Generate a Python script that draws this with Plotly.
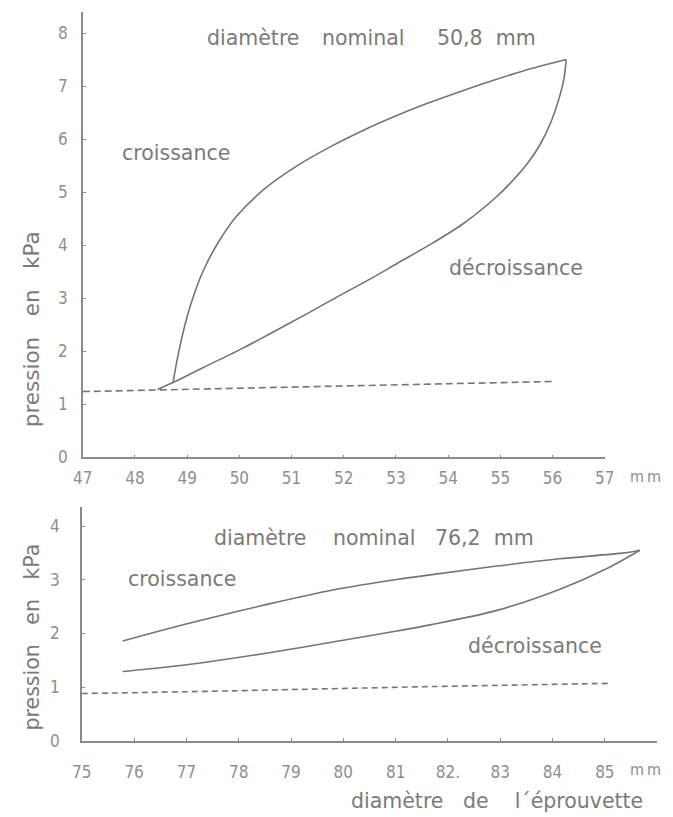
import plotly.graph_objects as go

# ---------------- data (top: nominal 50,8 mm) ----------------
top_ticks = [47, 48, 49, 50, 51, 52, 53, 54, 55, 56, 57]
top_yticks = [0, 1, 2, 3, 4, 5, 6, 7, 8]

top_cro_x = [48.73, 48.80, 48.92, 49.08, 49.30, 49.60, 49.95, 50.48, 51.11, 51.73,
             52.34, 52.98, 53.59, 54.21, 54.84, 55.45, 56.26]
top_cro_y = [1.41, 1.80, 2.35, 2.92, 3.50, 4.06, 4.55, 5.06, 5.50, 5.85,
             6.15, 6.43, 6.67, 6.89, 7.10, 7.29, 7.50]

top_dec_x = [48.43, 48.73, 49.30, 50.05, 50.55, 51.30, 51.90, 52.50, 53.03, 53.65,
             54.28, 54.90, 55.20, 55.51, 55.75, 55.96, 56.14, 56.22, 56.26]
top_dec_y = [1.28, 1.41, 1.69, 2.05, 2.31, 2.71, 3.04, 3.36, 3.66, 4.01,
             4.40, 4.89, 5.18, 5.53, 5.88, 6.30, 6.82, 7.15, 7.50]

top_ref_x = [47.0, 48.43, 56.0]
top_ref_y = [1.24, 1.27, 1.43]

# ---------------- data (bottom: nominal 76,2 mm) ----------------
bot_ticks = [75, 76, 77, 78, 79, 80, 81, 82, 83, 84, 85]
bot_ticktext = ["75", "76", "77", "78", "79", "80", "81", "82.", "83", "84", "85"]
bot_yticks = [0, 1, 2, 3, 4]

bot_cro_x = [75.78, 76.50, 77.34, 78.58, 79.80, 81.05, 81.66, 82.90, 84.13, 85.37, 85.67]
bot_cro_y = [1.86, 2.05, 2.26, 2.55, 2.81, 3.01, 3.09, 3.25, 3.39, 3.50, 3.55]

bot_dec_x = [75.78, 76.50, 77.34, 78.58, 79.80, 81.05, 81.66, 82.90, 84.13, 85.06, 85.67]
bot_dec_y = [1.29, 1.36, 1.46, 1.64, 1.84, 2.05, 2.16, 2.42, 2.82, 3.22, 3.55]

bot_ref_x = [75.0, 77.34, 81.66, 85.06]
bot_ref_y = [0.88, 0.92, 1.01, 1.07]

# ---------------- style ----------------
W, H = 673, 817
LINE = "#747474"
AXIS = "#8a8a8a"
TXT = "#7a7a7a"
TICKTXT = "#8e8e8e"
MAINFONT = "DejaVu Sans, Verdana, sans-serif"
TICKFONT = "Liberation Sans Narrow, DejaVu Sans Condensed, sans-serif"

fig = go.Figure()

def curve(x, y, xa, ya, dash=None, shape="spline"):
    fig.add_trace(go.Scatter(
        x=x, y=y, xaxis=xa, yaxis=ya, mode="lines",
        line=dict(color=LINE, width=1.6, dash=dash, shape=shape,
                  smoothing=0.8 if shape == "spline" else None),
        hoverinfo="skip", showlegend=False))

curve(top_cro_x, top_cro_y, "x", "y")
curve(top_dec_x, top_dec_y, "x", "y")
curve(top_ref_x, top_ref_y, "x", "y", dash="7px,4px", shape="linear")
curve(bot_cro_x, bot_cro_y, "x2", "y2")
curve(bot_dec_x, bot_dec_y, "x2", "y2")
curve(bot_ref_x, bot_ref_y, "x2", "y2", dash="6px,4px", shape="linear")

def px_frac_x(p):
    return p / W

def px_frac_y(p):
    return (H - p) / H

axis_common = dict(showline=True, linecolor=AXIS, linewidth=1.5, ticks="inside",
                   ticklen=3, tickwidth=1, tickcolor=AXIS, showgrid=False,
                   zeroline=False, tickfont=dict(family=TICKFONT, size=17, color=TICKTXT))

fig.update_layout(
    width=W, height=H, autosize=False,
    margin=dict(l=0, r=0, t=0, b=0),
    paper_bgcolor="white", plot_bgcolor="white",
    xaxis=dict(domain=[px_frac_x(75), px_frac_x(613)], range=[47, 57], anchor="y",
               tickmode="array", tickvals=top_ticks, ticklabelstandoff=5, **axis_common),
    yaxis=dict(domain=[px_frac_y(463), px_frac_y(12)], range=[0, 8.4], anchor="x",
               tickmode="array", tickvals=top_yticks, ticklabelstandoff=10, **axis_common),
    xaxis2=dict(domain=[px_frac_x(74), px_frac_x(667)], range=[75, 86], anchor="y2",
                tickmode="array", tickvals=bot_ticks, ticktext=bot_ticktext,
                ticklabelstandoff=15, **axis_common),
    yaxis2=dict(domain=[px_frac_y(750), px_frac_y(513)], range=[0, 4.36], anchor="x2",
                tickmode="array", tickvals=bot_yticks, ticklabelstandoff=17, **axis_common),
)

def label(text, x, y, xref, yref, size=20.5, angle=0, font=MAINFONT, color=TXT):
    fig.add_annotation(text=text, x=x, y=y, xref=xref, yref=yref, showarrow=False,
                       xanchor="center", yanchor="middle", textangle=angle,
                       font=dict(family=font, size=size, color=color))

NB = "\u00a0"

# top chart texts
label("diamètre", 50.26, 7.91, "x", "y")
label("nominal", 52.36, 7.91, "x", "y")
label("50,8" + NB * 2 + "mm", 54.73, 7.91, "x", "y")
label("croissance", 48.79, 5.73, "x", "y")
label("décroissance", 55.29, 3.57, "x", "y")
label("m\u2009m", px_frac_x(655), px_frac_y(482), "paper", "paper",
      size=16, font=TICKFONT, color=TICKTXT)
label("pression" + NB * 3 + "en" + NB * 3 + "kPa", px_frac_x(23), (463 - 333) / 451,
      "paper", "y domain", size=21.5, angle=-90)

# bottom chart texts
label("diamètre", 78.41, 3.78, "x2", "y2")
label("nominal", 80.58, 3.78, "x2", "y2")
label("76,2" + NB * 2 + "mm", 82.70, 3.78, "x2", "y2")
label("croissance", 76.91, 3.02, "x2", "y2")
label("décroissance", 83.66, 1.77, "x2", "y2")
label("m\u2009m", px_frac_x(655), px_frac_y(779), "paper", "paper",
      size=16, font=TICKFONT, color=TICKTXT)
label("pression" + NB * 3 + "en" + NB * 3 + "kPa", px_frac_x(23), (750 - 645) / 237,
      "paper", "y2 domain", size=20.5, angle=-90)
label("diamètre" + NB * 3 + "de" + NB * 4 + "l´éprouvette", px_frac_x(502), px_frac_y(811),
      "paper", "paper", size=20.5)

fig.write_html("out.html", config={"displayModeBar": False})
